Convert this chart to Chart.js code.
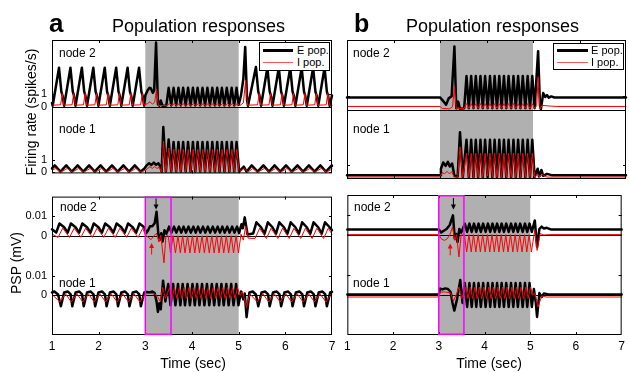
<!DOCTYPE html>
<html>
<head>
<meta charset="utf-8">
<script src="https://cdn.jsdelivr.net/npm/chart.js@4.4.1/dist/chart.umd.min.js"></script>
<style>
  html, body { margin: 0; padding: 0; background: #fff; overflow: hidden; }
  #fig { position: relative; width: 629px; height: 373px; font-family: "Liberation Sans", Arial, sans-serif; color: #000; }
  canvas { position: absolute; }
  .t { position: absolute; line-height: 1; white-space: nowrap; }
  .c { transform: translateX(-50%); }
  .rot { transform: translate(-50%, -50%) rotate(-90deg); font-size: 14px; }
  .node { font-size: 12px; }
  .leg { position: absolute; box-sizing: border-box; border: 1px solid #000; background: #fff; }
  .leg div { position: absolute; }
</style>
</head>
<body>
<div id="fig">
  <canvas id="fa" width="340" height="185" style="left:0;top:0"></canvas>
  <canvas id="pa" width="340" height="188" style="left:0;top:185px"></canvas>
  <canvas id="fb" width="289" height="185" style="left:340px;top:0"></canvas>
  <canvas id="pb" width="289" height="188" style="left:340px;top:185px"></canvas>

  <div class="t" style="left:49px;top:10px;font-size:26px;font-weight:bold">a</div>
  <div class="t c" style="left:198.5px;top:17px;font-size:18px">Population responses</div>
  <div class="t" style="left:354px;top:11px;font-size:25px;font-weight:bold">b</div>
  <div class="t c" style="left:492.5px;top:17px;font-size:18px">Population responses</div>

  <div class="t rot" style="left:31px;top:112px">Firing rate (spikes/s)</div>
  <div class="t rot" style="left:16px;top:263px">PSP (mV)</div>
  <div class="t c" style="left:193px;top:356px;font-size:14px">Time (sec)</div>
  <div class="t c" style="left:489px;top:356px;font-size:14px">Time (sec)</div>

  <div class="t node" style="left:59px;top:47px">node 2</div>
  <div class="t node" style="left:59px;top:123px">node 1</div>
  <div class="t node" style="left:353px;top:47px">node 2</div>
  <div class="t node" style="left:353px;top:123px">node 1</div>
  <div class="t node" style="left:60px;top:201px">node 2</div>
  <div class="t node" style="left:59px;top:277px">node 1</div>
  <div class="t node" style="left:354px;top:201px">node 2</div>
  <div class="t node" style="left:353px;top:277px">node 1</div>

  <div class="leg" style="left:259px;top:42px;width:71px;height:29px">
    <div style="left:3px;top:6px;width:30px;height:3px;background:#000"></div>
    <div style="left:3px;top:18.5px;width:30px;height:1.5px;background:#f55"></div>
    <div class="t" style="left:37px;top:2px;font-size:11px">E pop.</div>
    <div class="t" style="left:37px;top:14px;font-size:11px">I pop.</div>
  </div>
  <div class="leg" style="left:553px;top:43px;width:71px;height:27px">
    <div style="left:3px;top:5px;width:31px;height:3px;background:#000"></div>
    <div style="left:3px;top:17.5px;width:31px;height:1.5px;background:#f55"></div>
    <div class="t" style="left:37px;top:1px;font-size:11px">E pop.</div>
    <div class="t" style="left:37px;top:13px;font-size:11px">I pop.</div>
  </div>
</div>

<script>
/*********************************************************
 * DATA  (time in sec, rates in spikes/s, PSP in mV)
 *********************************************************/
const FONT = '"Liberation Sans", Arial, sans-serif';
const tMin = 1, tMax = 7;
const stimOn = 3, stimOff = 5;   // grey stimulation window
const boxOff = 3.55;             // magenta window end
const rateTicks = [0, 1];
const pspTicks = [0, 0.01];

// ===== panel a, firing rate =====
const fa2E = [
  [1.0,0.3],[1.015,0.08],
  [1.15,3.1],[1.2,1.2],[1.225,0.9],[1.26,0.08],
  [1.395,3.1],[1.445,1.2],[1.47,0.9],[1.505,0.08],
  [1.64,3.1],[1.69,1.2],[1.715,0.9],[1.75,0.08],
  [1.885,3.1],[1.935,1.2],[1.96,0.9],[1.995,0.08],
  [2.13,3.1],[2.18,1.2],[2.205,0.9],[2.24,0.08],
  [2.375,3.1],[2.425,1.2],[2.45,0.9],[2.485,0.08],
  [2.62,3.1],[2.67,1.2],[2.695,0.9],[2.73,0.08],
  [2.865,3.1],[2.915,1.2],[2.94,0.9],[2.975,0.08],
  [3.0,0.9],[3.05,1.3],[3.09,1.5],[3.12,1.45],[3.16,1.1],[3.19,1.3],[3.23,5.1],[3.27,0.2],[3.3,0.08],[3.33,0.5],[3.37,0.05],
  [3.45,0.1],[3.5,1.5],[3.555,0.1],[3.605,1.5],[3.66,0.1],[3.71,1.5],[3.76,0.1],[3.81,1.5],[3.865,0.1],[3.915,1.5],
  [3.97,0.1],[4.02,1.5],[4.07,0.1],[4.12,1.5],[4.175,0.1],[4.225,1.5],[4.28,0.1],[4.33,1.5],[4.385,0.1],[4.435,1.5],
  [4.49,0.1],[4.54,1.5],[4.59,0.1],[4.64,1.5],[4.695,0.1],[4.745,1.5],[4.8,0.1],[4.85,1.5],[4.905,0.1],[4.955,1.5],[5.0,0.15],
  [5.05,0.9],[5.1,2.2],[5.14,4.75],[5.18,0.5],[5.2,0.08],
  [5.37,3.15],[5.42,1.2],[5.445,0.9],[5.48,0.08],
  [5.615,3.1],[5.665,1.2],[5.69,0.9],[5.725,0.08],
  [5.86,3.1],[5.91,1.2],[5.935,0.9],[5.97,0.08],
  [6.105,3.1],[6.155,1.2],[6.18,0.9],[6.215,0.08],
  [6.35,3.1],[6.4,1.2],[6.425,0.9],[6.46,0.08],
  [6.595,3.1],[6.645,1.2],[6.67,0.9],[6.705,0.08],
  [6.84,3.1],[6.89,1.2],[6.915,0.9],[6.95,0.08],[7.0,0.9]
];
const fa2I = [
  [1.0,0.12],
  [1.185,0.15],[1.22,1.05],[1.255,0.12],[1.43,0.15],[1.465,1.05],[1.5,0.12],
  [1.675,0.15],[1.71,1.05],[1.745,0.12],[1.92,0.15],[1.955,1.05],[1.99,0.12],
  [2.165,0.15],[2.2,1.05],[2.235,0.12],[2.41,0.15],[2.445,1.05],[2.48,0.12],
  [2.655,0.15],[2.69,1.05],[2.725,0.12],[2.9,0.15],[2.935,1.05],[2.97,0.12],
  [3.05,0.25],[3.1,0.4],[3.15,0.2],[3.2,0.35],[3.24,1.4],[3.28,0.1],[3.45,0.08],
  [3.52,0.25],[3.56,0.08],[3.625,0.25],[3.665,0.08],[3.73,0.25],[3.77,0.08],[3.83,0.25],[3.87,0.08],
  [3.935,0.25],[3.975,0.08],[4.04,0.25],[4.08,0.08],[4.14,0.25],[4.18,0.08],[4.245,0.25],[4.285,0.08],
  [4.35,0.25],[4.39,0.08],[4.455,0.25],[4.495,0.08],[4.56,0.25],[4.6,0.08],[4.66,0.25],[4.7,0.08],
  [4.765,0.25],[4.805,0.08],[4.87,0.25],[4.91,0.08],[4.975,0.25],[5.02,0.08],
  [5.1,0.3],[5.15,2.1],[5.19,0.12],
  [5.405,0.15],[5.44,1.05],[5.475,0.12],[5.65,0.15],[5.685,1.05],[5.72,0.12],
  [5.895,0.15],[5.93,1.05],[5.965,0.12],[6.14,0.15],[6.175,1.05],[6.21,0.12],
  [6.385,0.15],[6.42,1.05],[6.455,0.12],[6.63,0.15],[6.665,1.05],[6.7,0.12],
  [6.875,0.15],[6.91,1.05],[6.945,0.12],[7.0,0.12]
];
const fa1E = [
  [1.0,0.3],[1.06,0.55],[1.18,0.04],[1.305,0.55],[1.425,0.04],[1.55,0.55],[1.67,0.04],[1.795,0.55],[1.915,0.04],
  [2.04,0.55],[2.16,0.04],[2.285,0.55],[2.405,0.04],[2.53,0.55],[2.65,0.04],[2.775,0.55],[2.895,0.04],
  [2.98,0.3],[3.03,0.55],[3.08,0.72],[3.13,0.58],[3.18,0.78],[3.23,0.6],[3.28,0.72],[3.32,0.45],[3.35,0.03],
  [3.385,3.65],[3.44,0.05],
  [3.5,2.65],[3.555,0.05],[3.605,2.45],[3.66,0.05],[3.71,2.45],[3.76,0.05],[3.81,2.45],[3.865,0.05],[3.915,2.45],[3.97,0.05],
  [4.02,2.45],[4.07,0.05],[4.12,2.45],[4.175,0.05],[4.225,2.45],[4.28,0.05],[4.33,2.45],[4.385,0.05],[4.435,2.45],[4.49,0.05],
  [4.54,2.45],[4.59,0.05],[4.64,2.45],[4.695,0.05],[4.745,2.45],[4.8,0.05],[4.85,2.45],[4.905,0.05],[4.955,2.45],[5.01,0.05],
  [5.11,0.45],[5.17,0.04],[5.28,0.55],[5.405,0.04],[5.53,0.55],[5.65,0.04],[5.77,0.55],[5.89,0.04],
  [6.015,0.55],[6.135,0.04],[6.26,0.55],[6.38,0.04],[6.505,0.55],[6.625,0.04],[6.75,0.55],[6.87,0.04],[6.995,0.55],[7.0,0.5]
];
const fa1I = [
  [1.0,0.15],[1.08,0.3],[1.19,0.0],[1.325,0.3],[1.435,0.0],[1.57,0.3],[1.68,0.0],[1.815,0.3],[1.925,0.0],
  [2.06,0.3],[2.17,0.0],[2.305,0.3],[2.415,0.0],[2.55,0.3],[2.66,0.0],[2.795,0.3],[2.905,0.0],
  [3.0,0.15],[3.05,0.3],[3.1,0.45],[3.15,0.3],[3.2,0.45],[3.25,0.3],[3.3,0.4],[3.35,0.0],[3.39,2.5],[3.44,0.02],
  [3.505,1.95],[3.555,0.02],[3.61,1.85],[3.66,0.02],[3.715,1.85],[3.76,0.02],[3.815,1.85],[3.865,0.02],[3.92,1.85],[3.97,0.02],
  [4.025,1.85],[4.07,0.02],[4.125,1.85],[4.175,0.02],[4.23,1.85],[4.28,0.02],[4.335,1.85],[4.385,0.02],[4.44,1.85],[4.49,0.02],
  [4.545,1.85],[4.59,0.02],[4.645,1.85],[4.695,0.02],[4.75,1.85],[4.8,0.02],[4.855,1.85],[4.905,0.02],[4.96,1.85],[5.01,0.02],
  [5.12,0.3],[5.2,0.0],[5.3,0.3],[5.41,0.0],[5.55,0.3],[5.66,0.0],[5.79,0.3],[5.9,0.0],
  [6.035,0.3],[6.145,0.0],[6.28,0.3],[6.39,0.0],[6.525,0.3],[6.635,0.0],[6.77,0.3],[6.88,0.0],[7.0,0.25]
];

// ===== panel b, firing rate =====
const fb2E = [
  [1.0,0.92],[3.0,0.92],[3.08,0.6],[3.13,0.36],[3.19,0.87],[3.25,1.0],[3.31,4.8],[3.35,0.1],[3.39,0.6],[3.43,0.05],[3.52,0.1],
  [3.57,2.55],[3.62,0.1],[3.67,2.55],[3.72,0.1],[3.77,2.55],[3.82,0.1],[3.87,2.55],[3.92,0.1],[3.97,2.55],[4.025,0.1],
  [4.075,2.55],[4.125,0.1],[4.175,2.55],[4.225,0.1],[4.275,2.55],[4.325,0.1],[4.375,2.55],[4.425,0.1],[4.475,2.55],[4.53,0.1],
  [4.58,2.55],[4.63,0.1],[4.68,2.55],[4.73,0.1],[4.78,2.55],[4.835,0.1],[4.885,2.55],[4.935,0.1],[4.985,2.55],[5.035,0.1],
  [5.11,4.45],[5.15,0.3],[5.17,0.02],[5.22,1.25],[5.26,0.95],[5.3,1.1],[5.34,0.9],[5.39,1.0],[5.46,0.92],[7.0,0.92]
];
const fb2I = [
  [1.0,0.23],[3.0,0.23],[3.05,0.08],[3.2,0.05],[3.27,0.2],[3.31,1.77],[3.35,0.05],[3.52,0.08],
  [3.57,0.45],[3.62,0.08],[3.67,0.45],[3.72,0.08],[3.77,0.45],[3.82,0.08],[3.87,0.45],[3.92,0.08],[3.97,0.45],[4.025,0.08],
  [4.075,0.45],[4.125,0.08],[4.175,0.45],[4.225,0.08],[4.275,0.45],[4.325,0.08],[4.375,0.45],[4.425,0.08],[4.475,0.45],[4.53,0.08],
  [4.58,0.45],[4.63,0.08],[4.68,0.45],[4.73,0.08],[4.78,0.45],[4.835,0.08],[4.885,0.45],[4.935,0.08],[4.985,0.45],[5.035,0.08],
  [5.08,0.3],[5.11,2.5],[5.15,0.05],[5.2,0.32],[5.3,0.28],[5.5,0.23],[7.0,0.23]
];
const fb1E = [
  [1.0,0.2],[3.0,0.2],[3.02,0.7],[3.07,1.18],[3.12,0.92],[3.17,1.23],[3.21,0.87],[3.26,1.1],[3.31,0.15],[3.38,0.1],[3.43,3.54],[3.49,0.05],
  [3.57,2.95],[3.62,0.05],[3.67,2.95],[3.72,0.05],[3.77,2.95],[3.82,0.05],[3.87,2.95],[3.92,0.05],[3.97,2.95],[4.025,0.05],
  [4.075,2.95],[4.125,0.05],[4.175,2.95],[4.225,0.05],[4.275,2.95],[4.325,0.05],[4.375,2.95],[4.425,0.05],[4.475,2.95],[4.53,0.05],
  [4.58,2.95],[4.63,0.05],[4.68,2.95],[4.73,0.05],[4.78,2.95],[4.835,0.05],[4.885,2.95],[4.935,0.05],[4.985,2.95],[5.035,0.05],
  [5.1,0.7],[5.13,0.1],[5.18,0.6],[5.22,0.15],[5.3,0.3],[5.4,0.2],[7.0,0.2]
];
const fb1I = [
  [1.0,0.05],[3.0,0.05],[3.05,0.4],[3.1,0.3],[3.15,0.5],[3.2,0.3],[3.25,0.45],[3.31,0.05],[3.38,0.02],[3.43,2.4],[3.49,0.02],
  [3.57,1.9],[3.62,0.02],[3.67,1.9],[3.72,0.02],[3.77,1.9],[3.82,0.02],[3.87,1.9],[3.92,0.02],[3.97,1.9],[4.025,0.02],
  [4.075,1.9],[4.125,0.02],[4.175,1.9],[4.225,0.02],[4.275,1.9],[4.325,0.02],[4.375,1.9],[4.425,0.02],[4.475,1.9],[4.53,0.02],
  [4.58,1.9],[4.63,0.02],[4.68,1.9],[4.73,0.02],[4.78,1.9],[4.835,0.02],[4.885,1.9],[4.935,0.02],[4.985,1.9],[5.035,0.02],
  [5.1,0.3],[5.15,0.05],[5.2,0.25],[5.3,0.05],[7.0,0.05]
];

// ===== panel a, PSP =====
const pa2E = [
  [1.0,0.0035],[1.09,0.0018],[1.16,0.0064],[1.26,0.0045],[1.335,0.0018],[1.405,0.0064],[1.505,0.0045],
  [1.58,0.0018],[1.65,0.0064],[1.75,0.0045],[1.825,0.0018],[1.895,0.0064],[1.995,0.0045],
  [2.07,0.0018],[2.14,0.0064],[2.24,0.0045],[2.315,0.0018],[2.385,0.0064],[2.485,0.0045],
  [2.56,0.0018],[2.63,0.0064],[2.73,0.0045],[2.805,0.0018],[2.875,0.0064],[2.975,0.0045],
  [3.02,0.0015],[3.06,0.003],[3.1,0.005],[3.15,0.005],[3.2,0.0065],[3.24,0.0123],[3.28,0.0007],[3.31,-0.0018],
  [3.34,0.0015],[3.37,-0.0027],[3.41,0.003],[3.45,0.0012],
  [3.51,0.0048],[3.56,0.0018],[3.615,0.0048],[3.665,0.0018],[3.72,0.0048],[3.77,0.0018],[3.82,0.0048],[3.87,0.0018],
  [3.925,0.0048],[3.975,0.0018],[4.03,0.0048],[4.08,0.0018],[4.13,0.0048],[4.18,0.0018],[4.235,0.0048],[4.285,0.0018],
  [4.34,0.0048],[4.39,0.0018],[4.445,0.0048],[4.495,0.0018],[4.55,0.0048],[4.6,0.0018],[4.65,0.0048],[4.7,0.0018],
  [4.755,0.0048],[4.805,0.0018],[4.86,0.0048],[4.91,0.0018],[4.965,0.0048],[5.01,0.0015],
  [5.06,0.006],[5.09,0.004],[5.13,0.0095],[5.19,0.0008],
  [5.31,0.0013],[5.38,0.007],[5.48,0.0045],[5.555,0.0013],[5.625,0.007],[5.725,0.0045],
  [5.8,0.0013],[5.87,0.007],[5.97,0.0045],[6.045,0.0013],[6.115,0.007],[6.215,0.0045],
  [6.29,0.0013],[6.36,0.007],[6.46,0.0045],[6.535,0.0013],[6.605,0.007],[6.705,0.0045],
  [6.78,0.0013],[6.85,0.007],[6.95,0.0045],[7.0,0.003]
];
const pa2I = [
  [1.0,0.001],[1.13,-0.0006],[1.23,0.004],[1.375,-0.0006],[1.475,0.004],[1.62,-0.0006],[1.72,0.004],
  [1.865,-0.0006],[1.965,0.004],[2.11,-0.0006],[2.21,0.004],[2.355,-0.0006],[2.455,0.004],
  [2.6,-0.0006],[2.7,0.004],[2.845,-0.0006],[2.945,0.004],
  [3.0,0.0005],[3.06,-0.0005],[3.12,-0.0018],[3.18,0.0],[3.24,0.0015],[3.29,-0.003],[3.33,0.0005],[3.4,-0.0135],[3.44,0.0],
  [3.49,0.0002],[3.54,-0.0085],[3.595,0.0002],[3.645,-0.0085],[3.7,0.0002],[3.75,-0.0085],[3.8,0.0002],[3.85,-0.0085],
  [3.905,0.0002],[3.955,-0.0085],[4.01,0.0002],[4.06,-0.0085],[4.11,0.0002],[4.16,-0.0085],[4.215,0.0002],[4.265,-0.0085],
  [4.32,0.0002],[4.37,-0.0085],[4.425,0.0002],[4.475,-0.0085],[4.53,0.0002],[4.58,-0.0085],[4.63,0.0002],[4.68,-0.0085],
  [4.735,0.0002],[4.785,-0.0085],[4.84,0.0002],[4.89,-0.0085],[4.945,0.0002],[4.995,-0.0085],
  [5.05,0.001],[5.1,-0.002],[5.15,0.005],[5.2,-0.001],
  [5.35,-0.0012],[5.45,0.004],[5.595,-0.0012],[5.695,0.004],[5.84,-0.0012],[5.94,0.004],
  [6.085,-0.0012],[6.185,0.004],[6.33,-0.0012],[6.43,0.004],[6.575,-0.0012],[6.675,0.004],
  [6.82,-0.0012],[6.92,0.004],[7.0,0.001]
];
const pa1E = [
  [1.0,0.0015],[1.05,0.002],[1.13,0.0005],
  [1.19,-0.0055],[1.26,0.0015],[1.34,0.002],[1.4,0.0005],
  [1.435,-0.0055],[1.505,0.0015],[1.585,0.002],[1.645,0.0005],
  [1.68,-0.0055],[1.75,0.0015],[1.83,0.002],[1.89,0.0005],
  [1.925,-0.0055],[1.995,0.0015],[2.075,0.002],[2.135,0.0005],
  [2.17,-0.0055],[2.24,0.0015],[2.32,0.002],[2.38,0.0005],
  [2.415,-0.0055],[2.485,0.0015],[2.565,0.002],[2.625,0.0005],
  [2.66,-0.0055],[2.73,0.0015],[2.81,0.002],[2.87,0.0005],
  [2.905,-0.0055],[2.975,0.0015],
  [3.03,0.0018],[3.1,0.0015],[3.15,0.002],[3.2,0.0012],[3.24,-0.003],[3.27,-0.0083],[3.3,-0.004],[3.33,-0.007],[3.38,0.0075],[3.43,-0.003],
  [3.49,0.0058],[3.54,-0.005],[3.595,0.0058],[3.645,-0.005],[3.7,0.0058],[3.75,-0.005],[3.8,0.0058],[3.85,-0.005],
  [3.905,0.0058],[3.955,-0.005],[4.01,0.0058],[4.06,-0.005],[4.11,0.0058],[4.16,-0.005],[4.215,0.0058],[4.265,-0.005],
  [4.32,0.0058],[4.37,-0.005],[4.425,0.0058],[4.475,-0.005],[4.53,0.0058],[4.58,-0.005],[4.63,0.0058],[4.68,-0.005],
  [4.735,0.0058],[4.785,-0.005],[4.84,0.0058],[4.89,-0.005],[4.945,0.0058],[4.995,-0.005],
  [5.05,0.002],[5.1,-0.002],[5.13,0.001],[5.17,-0.011],[5.23,0.0015],[5.3,0.002],[5.37,0.0005],
  [5.42,-0.0055],[5.49,0.0015],[5.57,0.002],[5.63,0.0005],
  [5.665,-0.0055],[5.735,0.0015],[5.815,0.002],[5.875,0.0005],
  [5.91,-0.0055],[5.98,0.0015],[6.06,0.002],[6.12,0.0005],
  [6.155,-0.0055],[6.225,0.0015],[6.305,0.002],[6.365,0.0005],
  [6.4,-0.0055],[6.47,0.0015],[6.55,0.002],[6.61,0.0005],
  [6.645,-0.0055],[6.715,0.0015],[6.795,0.002],[6.855,0.0005],
  [6.89,-0.0055],[6.96,0.0015],[7.0,0.0018]
];
const pa1I = [
  [1.0,0.0005],[1.17,-0.0033],[1.29,0.0008],[1.415,-0.0033],[1.535,0.0008],[1.66,-0.0033],[1.78,0.0008],
  [1.905,-0.0033],[2.025,0.0008],[2.15,-0.0033],[2.27,0.0008],[2.395,-0.0033],[2.515,0.0008],
  [2.64,-0.0033],[2.76,0.0008],[2.885,-0.0033],[3.0,0.0008],
  [3.1,0.001],[3.2,0.0008],[3.27,-0.001],[3.32,-0.003],[3.37,0.004],[3.43,-0.0015],
  [3.52,0.004],[3.57,-0.0015],[3.625,0.004],[3.675,-0.0015],[3.73,0.004],[3.78,-0.0015],[3.83,0.004],[3.88,-0.0015],
  [3.935,0.004],[3.985,-0.0015],[4.04,0.004],[4.09,-0.0015],[4.14,0.004],[4.19,-0.0015],[4.245,0.004],[4.295,-0.0015],
  [4.35,0.004],[4.4,-0.0015],[4.455,0.004],[4.505,-0.0015],[4.56,0.004],[4.61,-0.0015],[4.66,0.004],[4.71,-0.0015],
  [4.765,0.004],[4.815,-0.0015],[4.87,0.004],[4.92,-0.0015],[4.975,0.004],[5.03,0.0],
  [5.08,0.002],[5.17,-0.006],[5.24,0.0008],
  [5.4,-0.0033],[5.52,0.0008],[5.645,-0.0033],[5.765,0.0008],[5.89,-0.0033],[6.01,0.0008],
  [6.135,-0.0033],[6.255,0.0008],[6.38,-0.0033],[6.5,0.0008],[6.625,-0.0033],[6.745,0.0008],
  [6.87,-0.0033],[6.99,0.0008],[7.0,0.0008]
];

// ===== panel b, PSP =====
const pb2E = [
  [1.0,0.0028],[3.0,0.0028],[3.05,0.0012],[3.1,0.002],[3.17,0.003],[3.24,0.005],[3.31,0.0098],[3.35,-0.0018],
  [3.38,0.0005],[3.41,-0.0035],[3.45,0.003],[3.49,0.0012],
  [3.57,0.0057],[3.62,0.0015],[3.67,0.0057],[3.72,0.0015],[3.77,0.0057],[3.82,0.0015],[3.87,0.0057],[3.92,0.0015],[3.97,0.0057],[4.025,0.0015],
  [4.075,0.0057],[4.125,0.0015],[4.175,0.0057],[4.225,0.0015],[4.275,0.0057],[4.325,0.0015],[4.375,0.0057],[4.425,0.0015],[4.475,0.0057],[4.53,0.0015],
  [4.58,0.0057],[4.63,0.0015],[4.68,0.0057],[4.73,0.0015],[4.78,0.0057],[4.835,0.0015],[4.885,0.0057],[4.935,0.0015],[4.985,0.0057],[5.035,0.0015],
  [5.1,0.0073],[5.15,-0.006],[5.2,0.003],[5.25,0.0042],[5.3,0.0032],[5.36,0.0036],[5.45,0.0028],[7.0,0.0028]
];
const pb2I = [
  [1.0,0.0002],[3.0,0.0002],[3.05,-0.0018],[3.12,-0.0027],[3.18,-0.002],[3.24,0.0],[3.3,0.004],[3.35,-0.0027],
  [3.39,0.0002],[3.44,-0.011],[3.49,0.0],
  [3.56,0.0002],[3.61,-0.0085],[3.66,0.0002],[3.71,-0.0085],[3.76,0.0002],[3.81,-0.0085],[3.86,0.0002],[3.91,-0.0085],
  [3.96,0.0002],[4.015,-0.0085],[4.065,0.0002],[4.115,-0.0085],[4.165,0.0002],[4.215,-0.0085],[4.265,0.0002],[4.315,-0.0085],
  [4.365,0.0002],[4.415,-0.0085],[4.465,0.0002],[4.515,-0.0085],[4.57,0.0002],[4.62,-0.0085],[4.67,0.0002],[4.72,-0.0085],
  [4.77,0.0002],[4.82,-0.0085],[4.875,0.0002],[4.925,-0.0085],[4.975,0.0002],[5.025,-0.0085],
  [5.1,0.0025],[5.15,-0.0077],[5.22,0.0007],[5.3,0.0],[5.4,0.0002],[7.0,0.0002]
];
const pb1E = [
  [1.0,0.0003],[3.0,0.0003],[3.03,0.0032],[3.08,0.0028],[3.14,0.0033],[3.2,0.003],[3.26,0.0015],[3.3,-0.004],
  [3.34,-0.0078],[3.4,-0.002],[3.47,0.0075],[3.52,-0.004],
  [3.57,0.006],[3.62,-0.006],[3.67,0.006],[3.72,-0.006],[3.77,0.006],[3.82,-0.006],[3.87,0.006],[3.92,-0.006],[3.97,0.006],[4.025,-0.006],
  [4.075,0.006],[4.125,-0.006],[4.175,0.006],[4.225,-0.006],[4.275,0.006],[4.325,-0.006],[4.375,0.006],[4.425,-0.006],[4.475,0.006],[4.53,-0.006],
  [4.58,0.006],[4.63,-0.006],[4.68,0.006],[4.73,-0.006],[4.78,0.006],[4.835,-0.006],[4.885,0.006],[4.935,-0.006],[4.985,0.006],[5.035,-0.006],
  [5.08,0.003],[5.12,-0.0035],[5.15,-0.011],[5.2,0.001],[5.25,-0.001],[5.3,0.0008],[5.4,0.0003],[7.0,0.0003]
];
const pb1I = [
  [1.0,-0.001],[3.0,-0.001],[3.03,0.0015],[3.15,0.0015],[3.26,0.001],[3.32,-0.003],[3.38,0.0],[3.44,0.004],[3.5,-0.0018],
  [3.59,0.004],[3.64,-0.0018],[3.69,0.004],[3.74,-0.0018],[3.79,0.004],[3.84,-0.0018],[3.89,0.004],[3.94,-0.0018],
  [3.99,0.004],[4.045,-0.0018],[4.095,0.004],[4.145,-0.0018],[4.195,0.004],[4.245,-0.0018],[4.295,0.004],[4.345,-0.0018],
  [4.395,0.004],[4.445,-0.0018],[4.495,0.004],[4.55,-0.0018],[4.6,0.004],[4.65,-0.0018],[4.7,0.004],[4.75,-0.0018],
  [4.8,0.004],[4.855,-0.0018],[4.905,0.004],[4.955,-0.0018],[5.005,0.004],[5.05,0.0],
  [5.1,0.001],[5.17,-0.006],[5.25,-0.0005],[5.35,-0.001],[7.0,-0.001]
];

// arrows in PSP panels: time, tail value, head value (node 2 axis)
const arrowsA = [
  { t: 3.23, from: 0.019, to: 0.0135, color: "#000" },
  { t: 3.135, from: -0.0093, to: -0.0035, color: "#f00" }
];
const arrowsB = [
  { t: 3.32, from: 0.0185, to: 0.0128, color: "#000" },
  { t: 3.25, from: -0.0102, to: -0.0043, color: "#f00" }
];

/*********************************************************
 * DECORATION PLUGIN
 *********************************************************/
const decor = {
  id: "decor",
  beforeDatasetsDraw(chart, args, o) {
    const { ctx, chartArea: a, scales } = chart;
    const x = scales.x;
    ctx.save();
    const x0 = x.getPixelForValue(stimOn), x1 = x.getPixelForValue(stimOff);
    ctx.fillStyle = "#b0b0b0";
    ctx.fillRect(x0, a.top, x1 - x0, a.bottom - a.top);
    ctx.strokeStyle = "#000";
    ctx.lineWidth = 1;
    (o.zero || []).forEach(id => {
      const y = Math.round(scales[id].getPixelForValue(0)) + 0.5;
      ctx.beginPath(); ctx.moveTo(a.left, y); ctx.lineTo(a.right, y); ctx.stroke();
    });
    ctx.restore();
  },
  afterDatasetsDraw(chart, args, o) {
    const { ctx, chartArea: a, scales } = chart;
    const x = scales.x;
    ctx.save();
    // inward ticks
    ctx.strokeStyle = "#000";
    ctx.lineWidth = 1;
    ctx.beginPath();
    for (let t = tMin + 1; t < tMax; t++) {
      const px = Math.round(x.getPixelForValue(t)) + 0.5;
      ctx.moveTo(px, a.top); ctx.lineTo(px, a.top + 3);
      ctx.moveTo(px, a.bottom); ctx.lineTo(px, a.bottom - 3);
    }
    ["y1", "y2"].forEach(id => {
      scales[id].ticks.forEach(tk => {
        const py = Math.round(scales[id].getPixelForValue(tk.value)) + 0.5;
        ctx.moveTo(a.left, py); ctx.lineTo(a.left + 3, py);
        ctx.moveTo(a.right, py); ctx.lineTo(a.right - 3, py);
      });
    });
    ctx.stroke();
    // frame
    ctx.strokeRect(a.left + 0.5, a.top + 0.5, a.right - a.left - 1, a.bottom - a.top - 1);
    // magenta window
    if (o.box) {
      const m0 = x.getPixelForValue(stimOn), m1 = x.getPixelForValue(boxOff);
      ctx.strokeStyle = "#ff00ff";
      ctx.lineWidth = 1.5;
      ctx.strokeRect(m0, a.top + 0.75, m1 - m0, a.bottom - a.top - 1.5);
    }
    // arrows
    (o.arrows || []).forEach(ar => {
      const px = x.getPixelForValue(ar.t);
      const y0 = scales.y2.getPixelForValue(ar.from);
      const y1 = scales.y2.getPixelForValue(ar.to);
      const dir = y1 > y0 ? 1 : -1;
      ctx.strokeStyle = ar.color;
      ctx.fillStyle = ar.color;
      ctx.lineWidth = 1;
      ctx.beginPath(); ctx.moveTo(px, y0); ctx.lineTo(px, y1 - dir * 4); ctx.stroke();
      ctx.beginPath();
      ctx.moveTo(px, y1); ctx.lineTo(px - 2.5, y1 - dir * 5); ctx.lineTo(px + 2.5, y1 - dir * 5);
      ctx.closePath(); ctx.fill();
    });
    ctx.restore();
  }
};

/*********************************************************
 * CHART SETUP
 *********************************************************/
function trace(data, axis, color, width) {
  return {
    data: data.map(([x, y]) => ({ x, y })),
    yAxisID: axis,
    borderColor: color,
    borderWidth: width,
    borderJoinStyle: "round",
    borderCapStyle: "round",
    pointRadius: 0,
    tension: 0,
    fill: false,
    clip: false
  };
}

function yAxis(min, max, weight, tickVals, labels) {
  return {
    type: "linear", min, max,
    stack: "nodes", stackWeight: 1, weight,
    grid: { display: false, drawTicks: false },
    border: { display: false },
    afterBuildTicks: s => { s.ticks = tickVals.map(v => ({ value: v })); },
    afterFit: s => { s.width = labels ? 52 : 0; },
    ticks: { display: labels, padding: 5, color: "#000", font: { family: FONT, size: 11 }, callback: v => String(v) }
  };
}

function xAxis(labels) {
  return {
    type: "linear", min: tMin, max: tMax, display: labels,
    grid: { display: false, drawTicks: false },
    border: { display: false },
    afterFit: s => { s.height = labels ? 18 : 0; },
    ticks: { stepSize: 1, padding: 4, color: "#000", font: { family: FONT, size: 12 } }
  };
}

function makeChart(id, sets, scales, padding, deco) {
  return new Chart(document.getElementById(id), {
    type: "line",
    data: { datasets: sets },
    options: {
      responsive: false,
      animation: false,
      events: [],
      layout: { padding },
      scales,
      plugins: { legend: { display: false }, tooltip: { enabled: false }, decor: deco }
    },
    plugins: [decor]
  });
}

// I pop. datasets first so they are drawn over the E pop. traces
makeChart("fa",
  [trace(fa2I, "y2", "#f00", 1), trace(fa1I, "y1", "#f00", 1), trace(fa2E, "y2", "#000", 2.5), trace(fa1E, "y1", "#000", 2.5)],
  { x: xAxis(false), y1: yAxis(-0.1, 5.3, 1, rateTicks, true), y2: yAxis(0, 5.3, 2, rateTicks, true) },
  { left: 0, right: 8, top: 40, bottom: 6 },
  { zero: ["y2"] });

makeChart("pa",
  [trace(pa2I, "y2", "#f00", 1), trace(pa1I, "y1", "#f00", 1), trace(pa2E, "y2", "#000", 2.5), trace(pa1E, "y1", "#000", 2.5)],
  { x: xAxis(true), y1: yAxis(-0.02, 0.015, 1, pspTicks, true), y2: yAxis(-0.015, 0.02, 2, pspTicks, true) },
  { left: 0, right: 8, top: 10, bottom: 20 },
  { zero: ["y2", "y1"], box: true, arrows: arrowsA });

makeChart("fb",
  [trace(fb2I, "y2", "#f00", 1), trace(fb1I, "y1", "#f00", 1), trace(fb2E, "y2", "#000", 2.5), trace(fb1E, "y1", "#000", 2.5)],
  { x: xAxis(false), y1: yAxis(-0.1, 5.3, 1, rateTicks, false), y2: yAxis(0, 5.3, 2, rateTicks, false) },
  { left: 7, right: 3, top: 40, bottom: 6 },
  { zero: ["y2"] });

makeChart("pb",
  [trace(pb2I, "y2", "#f00", 1), trace(pb1I, "y1", "#f00", 1), trace(pb2E, "y2", "#000", 2.5), trace(pb1E, "y1", "#000", 2.5)],
  { x: xAxis(true), y1: yAxis(-0.02, 0.015, 1, pspTicks, false), y2: yAxis(-0.015, 0.02, 2, pspTicks, false) },
  { left: 7, right: 3, top: 10, bottom: 20 },
  { zero: ["y2", "y1"], box: true, arrows: arrowsB });
</script>
</body>
</html>
